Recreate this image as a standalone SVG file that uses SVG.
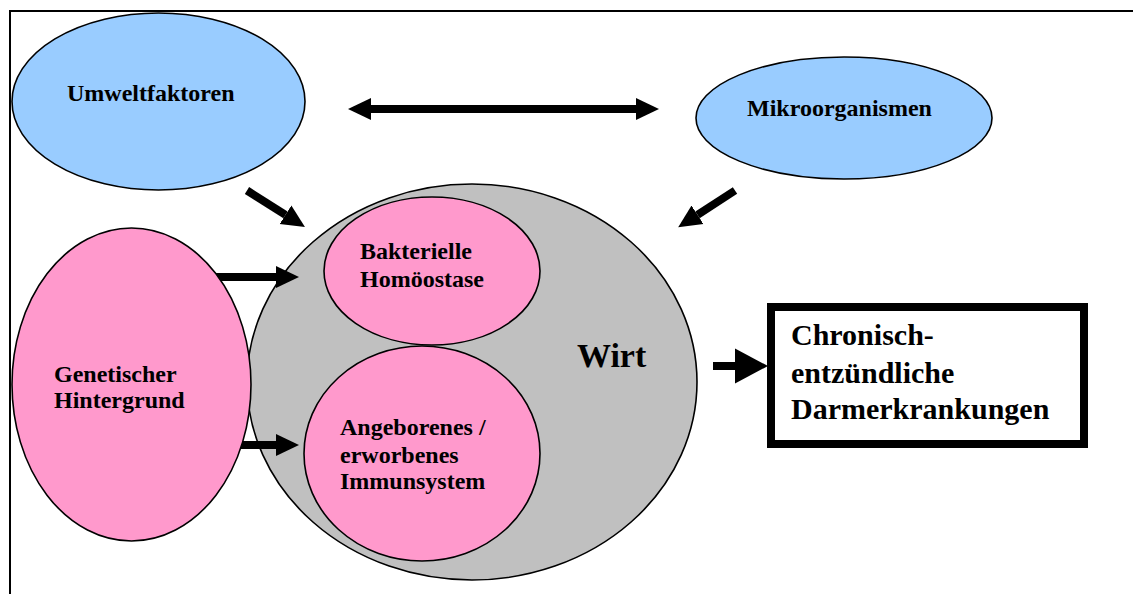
<svg xmlns="http://www.w3.org/2000/svg" width="1133" height="594" viewBox="0 0 1133 594">
<style>
.blue{fill:#99CCFF;stroke:#000;stroke-width:1.6}
.pink{fill:#FF99CC;stroke:#000;stroke-width:1.6}
.grey{fill:#C0C0C0;stroke:#000;stroke-width:1.6}
.lbl{font-family:"Liberation Serif","Times New Roman",serif;font-weight:bold;font-size:24px;fill:#000}
.big{font-size:30px}
.wirt{font-size:34px}
.arr{stroke:#000;stroke-width:8;fill:none}
</style>
<defs>
<marker id="hm" markerUnits="userSpaceOnUse" markerWidth="24" markerHeight="24" refX="0" refY="11" orient="auto-start-reverse" viewBox="0 0 24 22">
<path d="M0,0 L23,11 L0,22 z" fill="#000"/>
</marker>
<marker id="hb" markerUnits="userSpaceOnUse" markerWidth="34" markerHeight="36" refX="0" refY="17.5" orient="auto" viewBox="0 0 34 35">
<path d="M0,0 L33,17.5 L0,35 z" fill="#000"/>
</marker>
</defs>
<g id="frame" fill="none" stroke="#000" stroke-width="2">
<path d="M10,594 L10,11 L1133,11"/>
</g>
<g id="wirt">
<ellipse class="grey" cx="472" cy="382" rx="225" ry="198"/>
<text class="lbl wirt" x="577" y="367">Wirt</text>
</g>
<g id="bakterielle">
<ellipse class="pink" cx="432" cy="271" rx="108" ry="74"/>
<text class="lbl" x="360" y="259">Bakterielle</text>
<text class="lbl" x="360" y="287">Homöostase</text>
</g>
<g id="immunsystem">
<ellipse class="pink" cx="422" cy="453.5" rx="118" ry="107.5"/>
<text class="lbl" x="340" y="435">Angeborenes /</text>
<text class="lbl" x="340" y="463">erworbenes</text>
<text class="lbl" x="340" y="489">Immunsystem</text>
</g>
<g id="connectors">
<line class="arr" x1="213" y1="277" x2="276" y2="277" marker-end="url(#hm)"/>
<line class="arr" x1="236" y1="445" x2="276" y2="445" marker-end="url(#hm)"/>
<line class="arr" stroke-width="7" x1="371" y1="109" x2="636" y2="109" marker-start="url(#hm)" marker-end="url(#hm)"/>
<line class="arr" x1="247" y1="190.5" x2="285.5" y2="214.8" marker-end="url(#hm)"/>
<line class="arr" x1="735" y1="190.5" x2="697.5" y2="214.8" marker-end="url(#hm)"/>
<line class="arr" stroke-width="12" x1="713" y1="366" x2="735" y2="366" marker-end="url(#hb)"/>
</g>
<g id="genetik">
<ellipse class="pink" cx="131.5" cy="384.5" rx="119.5" ry="156.5"/>
<text class="lbl" x="54" y="382">Genetischer</text>
<text class="lbl" x="54" y="408">Hintergrund</text>
</g>
<g id="umwelt">
<ellipse class="blue" cx="158.5" cy="101.5" rx="146.5" ry="88.5"/>
<text class="lbl" x="67" y="101">Umweltfaktoren</text>
</g>
<g id="mikro">
<ellipse class="blue" cx="844" cy="118" rx="148" ry="61"/>
<text class="lbl" x="747" y="116">Mikroorganismen</text>
</g>
<g id="ced">
<rect x="771" y="307" width="313" height="137" fill="#fff" stroke="#000" stroke-width="8"/>
<text class="lbl big" x="791" y="345">Chronisch-</text>
<text class="lbl big" x="791" y="383">entzündliche</text>
<text class="lbl big" x="791" y="419">Darmerkrankungen</text>
</g>
</svg>
